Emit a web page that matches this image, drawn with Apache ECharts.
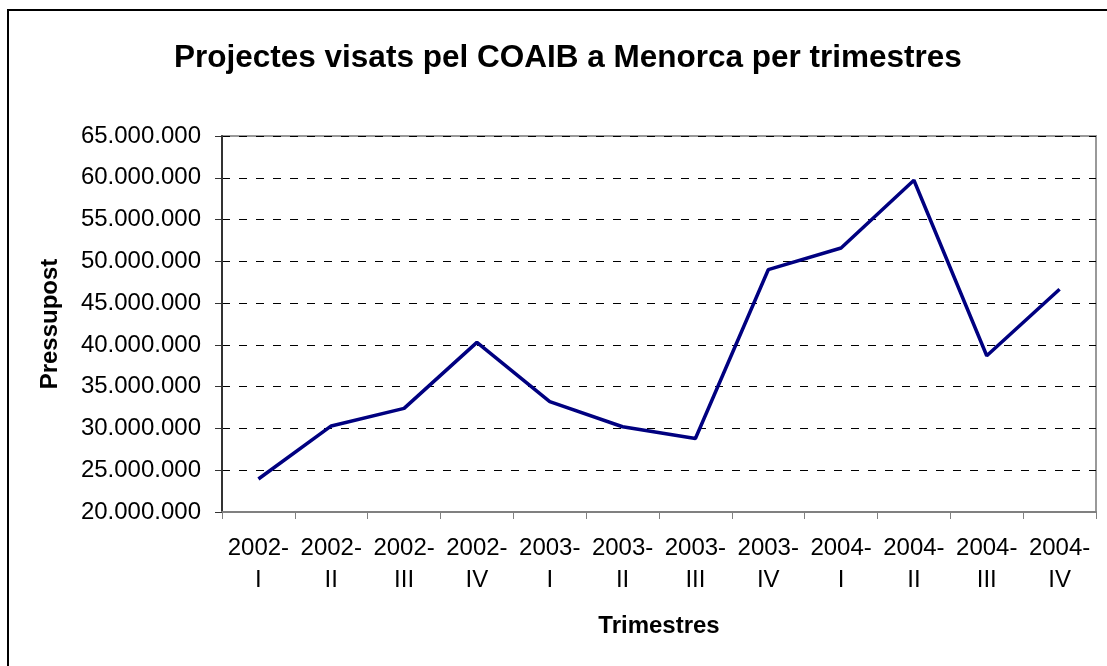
<!DOCTYPE html>
<html>
<head>
<meta charset="utf-8">
<title>Projectes visats pel COAIB a Menorca per trimestres</title>
<script src="https://cdn.jsdelivr.net/npm/echarts@6/dist/echarts.min.js"></script>
<style>
  html, body { margin: 0; padding: 0; background: #fff; }
  #chart { width: 1107px; height: 666px; }
</style>
</head>
<body>
<div id="chart"></div>
<script>
const quarters = ['2002-I', '2002-II', '2002-III', '2002-IV', '2003-I', '2003-II',
  '2003-III', '2003-IV', '2004-I', '2004-II', '2004-III', '2004-IV'];
const budget = [23950000, 30300000, 32400000, 40300000, 33200000, 30200000,
  28800000, 49000000, 51600000, 59700000, 38700000, 46650000];
const yMin = 20000000;
const yMax = 65000000;
const yStep = 5000000;

const font = '"Liberation Sans", Arial, sans-serif';

// 20000000 -> 20.000.000
const dotted = (v) => String(v).replace(/\B(?=(\d{3})+(?!\d))/g, '.');

const myChart = echarts.init(document.getElementById('chart'));

const option = {
  backgroundColor: '#fff',
  animation: false,
  title: {
    text: 'Projectes visats pel COAIB a Menorca per trimestres',
    left: 169,
    top: 37,
    textStyle: { fontFamily: font, fontSize: 31.5, fontWeight: 'bold', color: '#000' },
  },
  grid: {
    left: 222,
    right: 11,
    top: 136,
    bottom: 154,
    show: true,
    borderColor: '#999',
    borderWidth: 2,
  },
  xAxis: {
    type: 'category',
    data: quarters,
    boundaryGap: true,
    name: 'Trimestres',
    nameLocation: 'middle',
    nameGap: 102,
    nameTextStyle: { fontFamily: font, fontSize: 24, fontWeight: 'bold', color: '#000' },
    axisLine: { lineStyle: { color: '#808080', width: 2 } },
    axisTick: { show: true, alignWithLabel: false, length: 7, lineStyle: { color: '#808080', width: 1 } },
    axisLabel: {
      interval: 0,
      margin: 20,
      fontFamily: font,
      fontSize: 24,
      lineHeight: 32,
      color: '#000',
      formatter: (v) => v.replace('-', '-\n'),
    },
    splitLine: { show: false },
  },
  yAxis: {
    type: 'value',
    min: yMin,
    max: yMax,
    interval: yStep,
    name: 'Pressupost',
    nameLocation: 'middle',
    nameGap: 160,
    nameTextStyle: { fontFamily: font, fontSize: 24, fontWeight: 'bold', color: '#000' },
    axisLine: { show: true, lineStyle: { color: '#333', width: 2 } },
    axisTick: { show: true, length: 7, lineStyle: { color: '#333', width: 1 } },
    axisLabel: {
      margin: 21,
      fontFamily: font,
      fontSize: 24,
      color: '#000',
      formatter: dotted,
    },
    splitLine: { show: true, lineStyle: { color: '#000', width: 1, type: [8, 9] } },
  },
  series: [
    {
      type: 'line',
      data: budget,
      symbol: 'none',
      lineStyle: { color: '#000080', width: 3.5 },
      itemStyle: { color: '#000080' },
    },
  ],
  graphic: [
    {
      type: 'rect',
      shape: { x: 8, y: 10, width: 1200, height: 800 },
      style: { fill: 'none', stroke: '#000', lineWidth: 2 },
      silent: true,
    },
  ],
};

myChart.setOption(option);

window.addEventListener('resize', () => {
  myChart.resize();
});
</script>
</body>
</html>
